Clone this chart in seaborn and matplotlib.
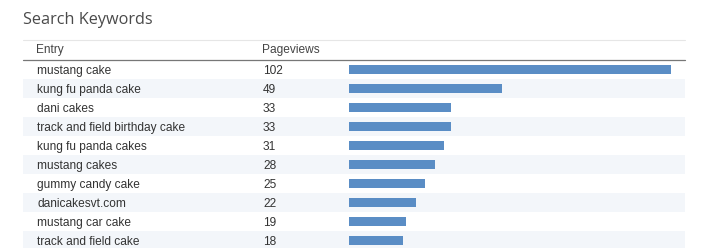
import matplotlib
matplotlib.use("Agg")
import matplotlib.pyplot as plt
import seaborn as sns
import pandas as pd
from matplotlib.lines import Line2D

entries = ["mustang cake", "kung fu panda cake", "dani cakes", "track and field birthday cake",
           "kung fu panda cakes", "mustang cakes", "gummy candy cake", "danicakesvt.com",
           "mustang car cake", "track and field cake"]
pageviews = [102, 49, 33, 33, 31, 28, 25, 22, 19, 18]
title = "Search Keywords"
headers = ["Entry", "Pageviews"]

df = pd.DataFrame({"entry": entries, "views": pageviews})

sns.set_theme(style="white")
plt.rcParams['font.family'] = ['Liberation Sans', 'DejaVu Sans']

W, H = 706, 248
fig = plt.figure(figsize=(W / 100, H / 100), dpi=100)
fig.patch.set_facecolor("white")

def fx(px):
    return px / W

def fy(py):
    return 1 - py / H

row_h = 19
top_rows = 60
n = len(entries)
tbl_bottom = fy(top_rows + n * row_h)
tbl_height = n * row_h / H

# table background axes (stripes + text)
ax_t = fig.add_axes([fx(23), tbl_bottom, fx(685) - fx(23), tbl_height])
ax_t.set_xlim(0, 1)
ax_t.set_ylim(n - 0.5, -0.5)
ax_t.axis("off")
for i in range(n):
    if i % 2 == 1:
        ax_t.axhspan(i - 0.5, i + 0.5, color="#f3f6fa", lw=0, zorder=0)
    ax_t.text((37 - 23) / 662, i, df["entry"][i], ha="left", va="center_baseline",
              fontsize=8.6, color="#333333")
    ax_t.text((263 - 23) / 662, i, str(df["views"][i]), ha="left", va="center_baseline",
              fontsize=8.6, color="#333333")

# bars axes
zero_px, px_per = 345.6, 3.19
ax_b = fig.add_axes([fx(349), tbl_bottom, fx(685) - fx(349), tbl_height])
sns.barplot(data=df, x="views", y="entry", orient="h", color="#5a8dc5", width=0.47,
            saturation=1, ax=ax_b, edgecolor="none")
ax_b.set_xlim((349 - zero_px) / px_per, (685 - zero_px) / px_per)
ax_b.set_ylim(n - 0.5, -0.5)
ax_b.patch.set_alpha(0)
ax_b.axis("off")

# title, header, lines
fig.text(fx(23), fy(18), title, ha="left", va="center_baseline", fontsize=11.7,
         color="#4a4a4a", family=["Open Sans", "DejaVu Sans"])
fig.text(fx(36), fy(49), headers[0], ha="left", va="center_baseline", fontsize=8.6, color="#444444")
fig.text(fx(262), fy(49), headers[1], ha="left", va="center_baseline", fontsize=8.6, color="#444444")
fig.add_artist(Line2D([fx(23), fx(685)], [fy(39.5), fy(39.5)], color="#e6e6e6", lw=0.8))
fig.add_artist(Line2D([fx(23), fx(685)], [fy(59.5), fy(59.5)], color="#777777", lw=0.9))

fig.savefig("out.png", dpi=100, facecolor="white")
